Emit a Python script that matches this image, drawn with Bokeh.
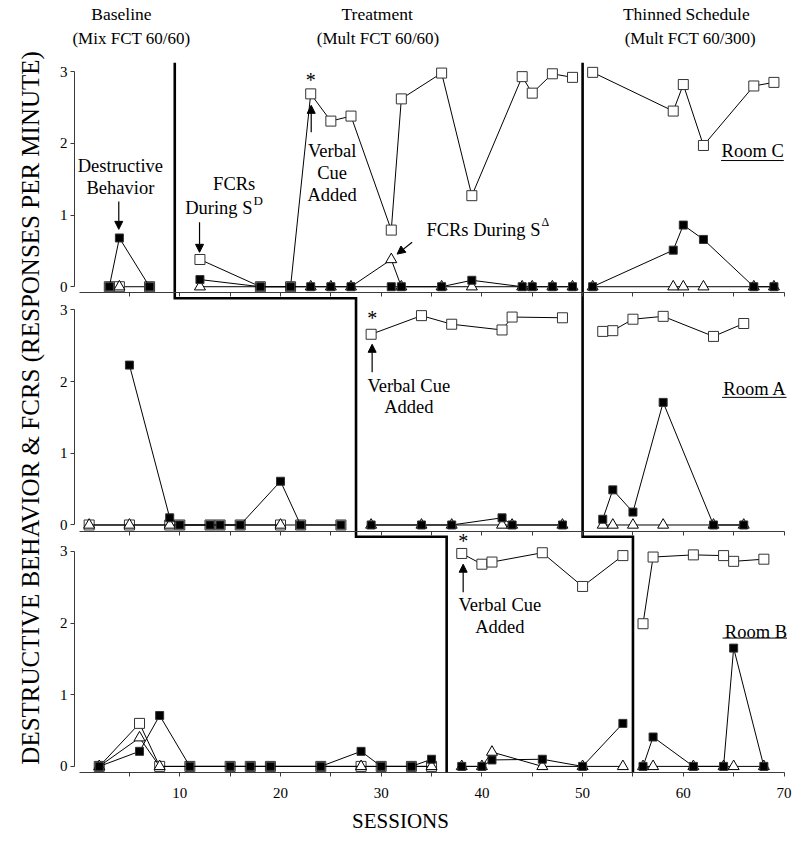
import math
from bokeh.plotting import figure
from bokeh.models import Range1d, LinearAxis, FixedTicker, Label, Arrow, NormalHead
from bokeh.embed import file_html
from bokeh.resources import INLINE

FONT = "Liberation Serif"

# ---------------- data (sessions / responses per minute) ----------------
# Phase-change sessions per room
c_phases = [9.5, 50]
a_phases = [27.5, 50]
b_phases = [36.5, 55]

# Room C
c_sd_s = [3, 4, 7, 12, 18, 21, 23, 25, 27, 31, 32, 36, 39, 44, 45, 47, 49, 51, 59, 60, 62, 67, 69]
c_sd_v = [0, 0, 0, 0.38, 0, 0, 2.69, 2.31, 2.38, 0.79, 2.62, 2.98, 1.27, 2.93, 2.70, 2.97, 2.92,
          2.99, 2.45, 2.82, 1.97, 2.80, 2.85]
c_sdelta_s = [4, 12, 23, 25, 27, 31, 32, 36, 39, 44, 45, 47, 49, 51, 59, 60, 62, 67, 69]
c_sdelta_v = [0, 0, 0, 0, 0, 0.38, 0, 0, 0, 0, 0, 0, 0, 0, 0, 0, 0, 0, 0]
c_db_s = [3, 4, 7, 12, 18, 21, 23, 25, 27, 31, 32, 36, 39, 44, 45, 47, 49, 51, 59, 60, 62, 67, 69]
c_db_v = [0, 0.68, 0, 0.10, 0, 0, 0, 0, 0, 0, 0, 0, 0.09, 0, 0, 0, 0, 0, 0.51, 0.86, 0.66, 0, 0]

# Room A
a_sd_s = [1, 5, 9, 10, 13, 14, 16, 20, 22, 26, 29, 34, 37, 42, 43, 48, 52, 53, 55, 58, 63, 66]
a_sd_v = [0, 0, 0, 0, 0, 0, 0, 0, 0, 0, 2.66, 2.92, 2.80, 2.72, 2.90, 2.89,
          2.70, 2.71, 2.87, 2.91, 2.63, 2.81]
a_sdelta_s = [1, 5, 9, 20, 29, 34, 37, 42, 43, 48, 52, 53, 55, 58, 63, 66]
a_sdelta_v = [0, 0, 0, 0, 0, 0, 0, 0, 0, 0, 0, 0, 0, 0, 0, 0]
a_db_s = [5, 9, 10, 13, 14, 16, 20, 22, 26, 29, 34, 37, 42, 43, 48, 52, 53, 55, 58, 63, 66]
a_db_v = [2.23, 0.10, 0, 0, 0, 0, 0.61, 0, 0, 0, 0, 0, 0.10, 0, 0, 0.08, 0.49, 0.18, 1.71, 0, 0]

# Room B
b_sd_s = [2, 6, 8, 11, 15, 17, 19, 24, 28, 30, 33, 35, 38, 40, 41, 46, 50, 54, 56, 57, 61, 64, 65, 68]
b_sd_v = [0, 0.60, 0, 0, 0, 0, 0, 0, 0, 0, 0, 0, 2.97, 2.82, 2.85, 2.98, 2.51, 2.94,
          1.99, 2.92, 2.95, 2.94, 2.86, 2.89]
b_sdelta_s = [2, 6, 8, 28, 35, 38, 40, 41, 46, 50, 54, 56, 57, 61, 64, 65, 68]
b_sdelta_v = [0, 0.40, 0, 0, 0, 0, 0, 0.20, 0, 0, 0, 0, 0, 0, 0, 0, 0]
b_db_s = [2, 6, 8, 11, 15, 17, 19, 24, 28, 30, 33, 35, 38, 40, 41, 46, 50, 54, 56, 57, 61, 64, 65, 68]
b_db_v = [0, 0.21, 0.71, 0, 0, 0, 0, 0, 0.21, 0, 0, 0.10, 0, 0, 0.09, 0.10, 0, 0.60,
          0, 0.41, 0, 0, 1.65, 0]

y_ticks = [0, 1, 2, 3]
x_major_ticks = [10, 20, 30, 40, 50, 60, 70]
x_minor_ticks = [5, 15, 25, 35, 45, 55, 65]

# ---------------- layout ----------------
W, H = 800, 849
MB_B = 77
PX_X, PX_Y = 10.07, 71.7
X0 = -78.6 / PX_X          # frame spans the full canvas width
X1 = X0 + W / PX_X
Y_AXIS_X = -0.457          # position of the y axes inside the frame
AX_V = -0.085
frame_h = H - MB_B
YB1 = AX_V + frame_h / PX_Y
OFF = {"default": 0.0, "A": 3.367, "C": 6.69}

p = figure(width=W, height=H, x_range=Range1d(X0, X1), y_range=Range1d(AX_V, YB1),
           output_backend="svg", toolbar_location=None,
           min_border_left=0, min_border_right=0,
           min_border_top=0, min_border_bottom=MB_B)
p.extra_y_ranges = {
    "A": Range1d(AX_V - OFF["A"], YB1 - OFF["A"]),
    "C": Range1d(AX_V - OFF["C"], YB1 - OFF["C"]),
}
p.grid.visible = False
p.outline_line_color = None
p.yaxis.visible = False

AX_COL = "#3a3a3a"

xa = p.xaxis[0]
xa.ticker = FixedTicker(ticks=x_major_ticks, minor_ticks=x_minor_ticks)
xa.bounds = (0, 70)
xa.axis_line_color = AX_COL
xa.major_tick_line_color = AX_COL
xa.minor_tick_line_color = AX_COL
xa.major_tick_in = 0
xa.major_tick_out = 4
xa.minor_tick_in = 0
xa.minor_tick_out = 4
xa.major_label_text_font = FONT
xa.major_label_text_font_size = "15px"
xa.major_label_text_color = "black"
xa.major_label_standoff = 11
xa.axis_label = "SESSIONS"
xa.axis_label_text_font = FONT
xa.axis_label_text_font_size = "21px"
xa.axis_label_text_font_style = "normal"
xa.axis_label_text_color = "black"
xa.axis_label_standoff = 8

all_x_ticks = sorted(x_major_ticks + x_minor_ticks)
for rn in ["A", "C"]:
    ax = LinearAxis(y_range_name=rn, fixed_location=AX_V, bounds=(0, 70),
                    ticker=FixedTicker(ticks=all_x_ticks, minor_ticks=[]),
                    major_label_overrides={t: "" for t in all_x_ticks},
                    axis_line_color=AX_COL, major_tick_line_color=AX_COL,
                    major_tick_in=0, major_tick_out=4, minor_tick_in=0, minor_tick_out=0)
    p.add_layout(ax, "below")

for rn in ["default", "A", "C"]:
    ay = LinearAxis(y_range_name=rn, fixed_location=Y_AXIS_X, bounds=(0, 3),
                    ticker=FixedTicker(ticks=y_ticks, minor_ticks=[]),
                    axis_line_color=AX_COL, major_tick_line_color=AX_COL,
                    major_tick_in=0, major_tick_out=4, minor_tick_in=0, minor_tick_out=0,
                    major_label_text_font=FONT, major_label_text_font_size="15px",
                    major_label_text_color="black", major_label_standoff=3)
    p.add_layout(ay, "left")


def split(sessions, values, phases):
    edges = [-1e9] + list(phases) + [1e9]
    out = []
    for lo, hi in zip(edges[:-1], edges[1:]):
        xs = [s for s in sessions if lo < s < hi]
        ys = [v for s, v in zip(sessions, values) if lo < s < hi]
        if xs:
            out.append((xs, ys))
    return out


def draw_room(rn, phases, sd, sdelta, db):
    for xs, ys in split(*sd, phases):
        p.line(xs, ys, y_range_name=rn, line_color="black", line_width=1)
    p.scatter(sd[0], sd[1], y_range_name=rn, marker="square", size=10,
              fill_color="white", line_color="#333333", line_width=1)
    for xs, ys in split(*sdelta, phases):
        p.line(xs, ys, y_range_name=rn, line_color="black", line_width=1)
    p.scatter(sdelta[0], sdelta[1], y_range_name=rn, marker="triangle", size=11,
              fill_color="white", line_color="black", line_width=1)
    for xs, ys in split(*db, phases):
        p.line(xs, ys, y_range_name=rn, line_color="black", line_width=1)
    p.scatter(db[0], db[1], y_range_name=rn, marker="square", size=8,
              fill_color="black", line_color="#333333", line_width=1)


draw_room("C", c_phases, (c_sd_s, c_sd_v), (c_sdelta_s, c_sdelta_v), (c_db_s, c_db_v))
draw_room("A", a_phases, (a_sd_s, a_sd_v), (a_sdelta_s, a_sdelta_v), (a_db_s, a_db_v))
draw_room("default", b_phases, (b_sd_s, b_sd_v), (b_sdelta_s, b_sdelta_v), (b_db_s, b_db_v))

# phase-change lines (stepped across the three panels)
C_TOP = OFF["C"] + 3.125
C_STEP = OFF["C"] - 0.16
A_STEP = OFF["A"] - 0.165
p.line([c_phases[0], c_phases[0], a_phases[0], a_phases[0], b_phases[0], b_phases[0]],
       [C_TOP, C_STEP, C_STEP, A_STEP, A_STEP, AX_V],
       line_color="black", line_width=2.6, line_join="miter")
p.line([c_phases[1], a_phases[1], b_phases[1], b_phases[1]],
       [C_TOP, A_STEP, A_STEP, AX_V],
       line_color="black", line_width=2.6, line_join="miter")


def lab(x, y, text, rn="default", size="18.5px", align="center", angle=0.0):
    p.add_layout(Label(x=x, y=y, text=text, y_range_name=rn, text_font=FONT,
                       text_font_size=size, text_align=align, text_baseline="middle",
                       text_color="black", angle=angle))


def arrow(x0, y0, x1, y1, rn):
    p.add_layout(Arrow(x_start=x0, y_start=y0, x_end=x1, y_end=y1, y_range_name=rn,
                       line_width=1.2, line_color="black",
                       end=NormalHead(size=8, fill_color="black", line_color="black")))


# phase headers
lab(4.2, 3.80, "Baseline", "C", "17.5px")
lab(5.2, 3.46, "(Mix FCT 60/60)", "C", "17px")
lab(29.6, 3.80, "Treatment", "C", "17.5px")
lab(29.7, 3.46, "(Mult FCT 60/60)", "C", "17px")
lab(60.3, 3.80, "Thinned Schedule", "C", "17.5px")
lab(60.7, 3.46, "(Mult FCT 60/300)", "C", "17px")

# y-axis title
lab(-4.83, 5.0, "DESTRUCTIVE BEHAVIOR & FCRS (RESPONSES PER MINUTE)", "default", "25px",
    angle=math.pi / 2)

# Room C annotations
lab(4.1, 1.69, "Destructive", "C")
lab(4.1, 1.38, "Behavior", "C")
arrow(3.94, 1.19, 3.94, 0.80, "C")
lab(15.4, 1.43, "FCRs", "C")
lab(17.22, 1.10, "During S", "C", align="right")
lab(17.32, 1.20, "D", "C", "13px", align="left")
arrow(11.96, 0.90, 11.96, 0.48, "C")
lab(23.0, 2.89, "*", "C", "20px")
arrow(23.05, 2.155, 23.05, 2.53, "C")
lab(25.13, 1.90, "Verbal", "C")
lab(25.13, 1.58, "Cue", "C")
lab(25.13, 1.285, "Added", "C")
lab(45.82, 0.796, "FCRs During S", "C", align="right")
lab(45.92, 0.90, "\u0394", "C", "12px", align="left")
arrow(33.07, 0.62, 31.58, 0.455, "C")
lab(69.98, 1.90, "Room C", "C", align="right")
p.segment(x0=[63.75], y0=[1.76], x1=[69.98], y1=[1.76], y_range_name="C",
          line_color="black", line_width=1)

# Room A annotations
lab(29.1, 2.89, "*", "A", "20px")
arrow(29.1, 2.13, 29.1, 2.52, "A")
lab(32.74, 1.94, "Verbal Cue", "A")
lab(32.74, 1.65, "Added", "A")
lab(70.25, 1.89, "Room A", "A", align="right")
p.segment(x0=[63.85], y0=[1.78], x1=[70.25], y1=[1.78], y_range_name="A",
          line_color="black", line_width=1)

# Room B annotations
lab(38.14, 3.15, "*", "default", "20px")
arrow(38.14, 2.43, 38.14, 2.82, "default")
lab(41.78, 2.255, "Verbal Cue", "default")
lab(41.78, 1.95, "Added", "default")
lab(70.3, 1.88, "Room B", "default", align="right")
p.segment(x0=[63.9], y0=[1.79], x1=[70.3], y1=[1.79], line_color="black", line_width=1)

open("out.html", "w").write(file_html(p, INLINE))
